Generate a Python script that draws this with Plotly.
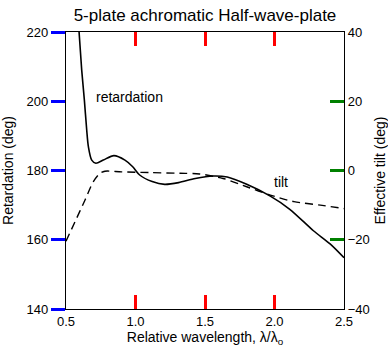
import plotly.graph_objects as go

# Retardation curve (left axis, deg)
ret_x = [0.585, 0.594, 0.613, 0.632, 0.649, 0.661, 0.685, 0.715, 0.768, 0.845, 0.924,
         0.98, 1.03, 1.12, 1.21, 1.31, 1.43, 1.56, 1.66, 1.80, 1.97, 2.11, 2.28, 2.40, 2.50]
ret_y = [224, 220, 209, 200.4, 191.7, 186.9, 183, 182.1, 183, 184.3, 183,
         181.1, 178.7, 176.8, 176.0, 176.5, 177.7, 178.4, 178.1, 176, 172.6, 168.8, 162.6, 158.8, 154.8]

# Effective tilt curve (right axis, deg)
tilt_x = [0.50, 0.565, 0.637, 0.697, 0.745, 0.78, 0.9, 1.1, 1.32, 1.46, 1.63, 1.80, 1.97, 2.14, 2.33, 2.50]
tilt_y = [-20.4, -14.8, -8.5, -3.2, -0.8, -0.2, -0.4, -0.6, -0.8, -1.0, -2.3, -4.7, -7.1, -9.0, -10.0, -11.0]

x_ticks = [0.5, 1.0, 1.5, 2.0, 2.5]
left_ticks = [140, 160, 180, 200, 220]
right_ticks = [-40, -20, 0, 20, 40]

FONT = "Liberation Sans, Arial, sans-serif"

fig = go.Figure()
fig.add_trace(go.Scatter(x=ret_x, y=ret_y, mode="lines", line=dict(color="black", width=1.6, shape="spline", smoothing=0.8),
                         name="retardation", showlegend=False))
fig.add_trace(go.Scatter(x=tilt_x, y=tilt_y, mode="lines", yaxis="y2",
                         line=dict(color="black", width=1.4, dash="8px,5px", shape="spline", smoothing=0.8),
                         name="tilt", showlegend=False))

fig.update_layout(
    width=388, height=354,
    margin=dict(l=66, r=44, t=32, b=45, autoexpand=False),
    paper_bgcolor="white", plot_bgcolor="white",
    font=dict(family=FONT, color="black", size=13),
    title=dict(text="5-plate achromatic Half-wave-plate", x=0.5, xref="paper", y=0.958, yref="container",
               yanchor="middle", xanchor="center", font=dict(size=17), automargin=False),
    xaxis=dict(range=[x_ticks[0], x_ticks[-1]], tickvals=x_ticks, ticktext=[f"{v:.1f}" for v in x_ticks],
               automargin=False, showline=True, linecolor="black", linewidth=1.2,
               ticks="inside", ticklen=14, tickwidth=3, tickcolor="red",
               mirror="ticks", showgrid=False, zeroline=False,
               title=dict(text="Relative wavelength, λ/λ<sub>o</sub>", standoff=4, font=dict(size=14))),
    yaxis=dict(range=[left_ticks[0], left_ticks[-1]], tickvals=left_ticks, automargin=False,
               ticks="outside", ticklen=14, tickwidth=3, tickcolor="blue",
               showline=True, linecolor="black", linewidth=1.2, showgrid=False, zeroline=False,
               title=dict(text="Retardation (deg)", standoff=16, font=dict(size=14))),
    yaxis2=dict(range=[right_ticks[0], right_ticks[-1]], tickvals=right_ticks, overlaying="y", side="right",
                automargin=False, ticks="inside", ticklen=14, tickwidth=3, tickcolor="green",
                showline=True, linecolor="black", linewidth=1.2, showgrid=False, zeroline=False,
                title=dict(text="Effective tilt (deg)", standoff=6, font=dict(size=14))),
    annotations=[
        dict(text="retardation", x=0.96, y=201.2, xref="x", yref="y", showarrow=False, font=dict(size=14)),
        dict(text="tilt", x=2.05, y=176.8, xref="x", yref="y", showarrow=False, font=dict(size=14)),
    ],
)

fig.write_html("out.html", config={"displayModeBar": False},
               post_script="document.body.style.margin='0';")
